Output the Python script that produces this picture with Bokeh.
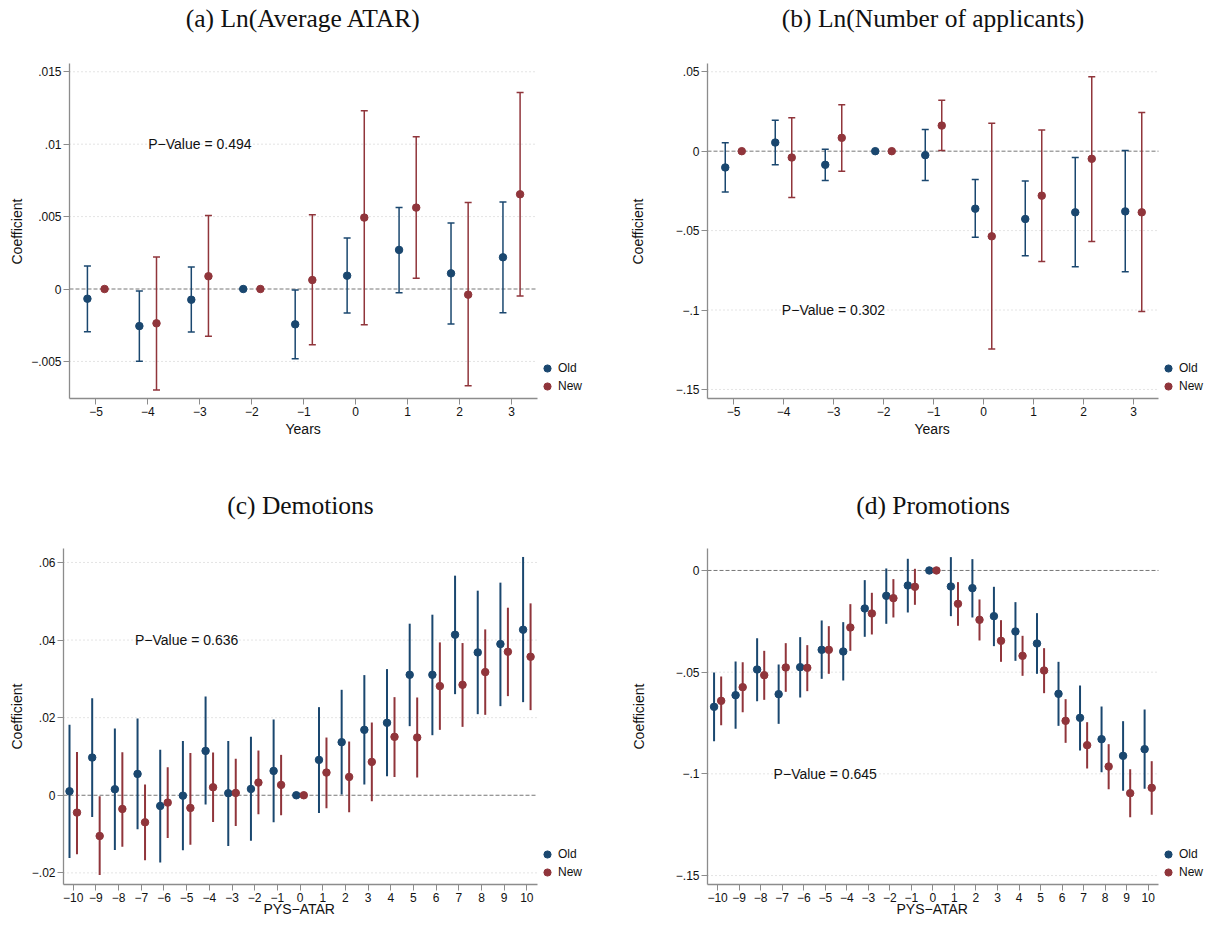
from bokeh.plotting import figure
from bokeh.models import Range1d, FixedTicker, Legend, LegendItem, Label, Title
from bokeh.layouts import column, row
from bokeh.embed import file_html
from bokeh.resources import INLINE
from bokeh.core.properties import value

NaN = float("nan")
M = "\u2212"

# ---------------- Panel (a) Ln(Average ATAR) ----------------
a_years = [-5, -4, -3, -2, -1, 0, 1, 2, 3]
a_old_coef = [-0.00067, -0.00256, -0.00074, 0.0, -0.00244, 0.00092, 0.00270, 0.00108, 0.00219]
a_old_lo = [-0.00295, -0.00498, -0.00297, NaN, -0.00482, -0.00166, -0.00025, -0.00242, -0.00164]
a_old_hi = [0.00159, -0.00014, 0.00152, NaN, -0.00007, 0.00353, 0.00562, 0.00456, 0.00601]
a_new_coef = [0.0, -0.00237, 0.00088, 0.0, 0.00062, 0.00493, 0.00562, -0.00039, 0.00654]
a_new_lo = [NaN, -0.00698, -0.00327, NaN, -0.00385, -0.00247, 0.00074, -0.00668, -0.00048]
a_new_hi = [NaN, 0.00221, 0.00507, NaN, 0.00512, 0.01230, 0.01051, 0.00597, 0.01357]
a_yticks = [-0.005, 0.0, 0.005, 0.01, 0.015]
a_ylabels = [M + ".005", "0", ".005", ".01", ".015"]
a_pval = "P" + M + "Value = 0.494"

# ---------------- Panel (b) Ln(Number of applicants) ----------------
b_years = [-5, -4, -3, -2, -1, 0, 1, 2, 3]
b_old_coef = [-0.01025, 0.00544, -0.00858, 0.0, -0.0025, -0.0362, -0.0427, -0.0385, -0.0379]
b_old_lo = [-0.0257, -0.00858, -0.0184, NaN, -0.0184, -0.0542, -0.0659, -0.0728, -0.0759]
b_old_hi = [0.00523, 0.01946, 0.00126, NaN, 0.0136, -0.0178, -0.0188, -0.0040, 0.0004]
b_new_coef = [0.0, -0.0040, 0.0084, 0.0, 0.0161, -0.0536, -0.0280, -0.0048, -0.0385]
b_new_lo = [NaN, -0.0291, -0.0126, NaN, 0.0004, -0.1245, -0.0695, -0.0569, -0.1009]
b_new_hi = [NaN, 0.0211, 0.0293, NaN, 0.0320, 0.0176, 0.0134, 0.0469, 0.0243]
b_yticks = [-0.15, -0.1, -0.05, 0.0, 0.05]
b_ylabels = [M + ".15", M + ".1", M + ".05", "0", ".05"]
b_pval = "P" + M + "Value = 0.302"

# ---------------- Panel (c) Demotions ----------------
c_pys = list(range(-10, 11))
c_old_coef = [0.00103, 0.00972, 0.00155, 0.00551, -0.00275, -0.0001, 0.01144, 0.00052, 0.00163, 0.00628, 0.0,
              0.00912, 0.01368, 0.01686, 0.01867, 0.03105, 0.03105, 0.04138, 0.03682, 0.03897, 0.04267]
c_old_lo = [-0.01617, -0.00559, -0.0141, -0.00877, -0.0173, -0.0142, -0.00241, -0.0131, -0.0117, -0.00697, NaN,
            -0.00456, 0.00017, 0.00275, 0.0049, 0.01781, 0.01548, 0.02606, 0.0209, 0.02297, 0.024]
c_old_hi = [0.01815, 0.02503, 0.0172, 0.0198, 0.0117, 0.0140, 0.02546, 0.0140, 0.01505, 0.01953, NaN,
            0.02271, 0.02718, 0.03097, 0.03252, 0.04422, 0.04654, 0.0566, 0.05273, 0.0548, 0.06142]
c_new_coef = [-0.00447, -0.0105, -0.00353, -0.00697, -0.00189, -0.00327, 0.00206, 0.0006, 0.00327, 0.00267, 0.0,
              0.00585, 0.00473, 0.0086, 0.01505, 0.01488, 0.02813, 0.02847, 0.03174, 0.03699, 0.0357]
c_new_lo = [-0.01523, -0.02056, -0.01325, -0.01677, -0.01101, -0.01273, -0.00688, -0.00791, -0.0049, -0.00516, NaN,
            -0.00335, -0.00439, -0.00155, 0.00473, 0.00456, 0.01686, 0.01763, 0.02073, 0.02555, 0.02194]
c_new_hi = [0.01118, -0.00026, 0.0111, 0.00275, 0.00723, 0.01092, 0.01101, 0.00938, 0.01153, 0.01041, NaN,
            0.01488, 0.01385, 0.01875, 0.02529, 0.0252, 0.0394, 0.03923, 0.04275, 0.04834, 0.04946]
c_yticks = [-0.02, 0.0, 0.02, 0.04, 0.06]
c_ylabels = [M + ".02", "0", ".02", ".04", ".06"]
c_pval = "P" + M + "Value = 0.636"

# ---------------- Panel (d) Promotions ----------------
d_pys = list(range(-10, 11))
d_old_coef = [-0.06705, -0.06131, -0.04869, -0.06082, -0.04754, -0.03902, -0.03984, -0.01869, -0.01246, -0.00738, 0.0,
              -0.00787, -0.00869, -0.02246, -0.03, -0.0359, -0.06066, -0.07246, -0.08295, -0.09115, -0.08787]
d_old_lo = [-0.08393, -0.07787, -0.06426, -0.07541, -0.06246, -0.05328, -0.0541, -0.03262, -0.02623, -0.02066, NaN,
            -0.02246, -0.02311, -0.03721, -0.04443, -0.05082, -0.0764, -0.08852, -0.09918, -0.10836, -0.10738]
d_old_hi = [-0.05016, -0.04475, -0.03328, -0.04623, -0.03279, -0.02459, -0.02541, -0.00475, 0.00098, 0.00574, NaN,
            0.00656, 0.00557, -0.00803, -0.01557, -0.02098, -0.04492, -0.05656, -0.06689, -0.0741, -0.06836]
d_new_coef = [-0.0641, -0.05738, -0.05148, -0.0477, -0.04787, -0.03902, -0.02803, -0.02115, -0.01361, -0.00803, 0.0,
              -0.01639, -0.02426, -0.03459, -0.04197, -0.04918, -0.07393, -0.0859, -0.09639, -0.10951, -0.10689]
d_new_lo = [-0.07607, -0.06967, -0.06361, -0.05967, -0.05934, -0.05082, -0.03951, -0.03148, -0.02311, -0.01689, NaN,
            -0.02721, -0.03443, -0.04492, -0.0518, -0.06033, -0.08475, -0.09738, -0.10754, -0.12131, -0.12016]
d_new_hi = [-0.05213, -0.04508, -0.03951, -0.03574, -0.03672, -0.02738, -0.01656, -0.01098, -0.00426, 0.00082, NaN,
            -0.00574, -0.01426, -0.02443, -0.03213, -0.0382, -0.06328, -0.07459, -0.08541, -0.0977, -0.09377]
d_yticks = [-0.15, -0.1, -0.05, 0.0]
d_ylabels = [M + ".15", M + ".1", M + ".05", "0"]
d_pval = "P" + M + "Value = 0.645"

OLD_C = "#1A476F"
NEW_C = "#90353B"
SANS = "Liberation Sans"
SERIF = "Liberation Serif"
AX_C = "#8c8c8c"
LAB_PX = 14
# approximate rendered widths (em) of the axis titles in Liberation Sans
EM_W = {"Years": 2.612, "PYS" + M + "ATAR": 5.252, "Coefficient": 4.724}


def xlab(v):
    return (M + str(-v)) if v < 0 else str(v)


def panel(title, xs, old, new, yticks, ylabels, xrange, yrange, xlabel, pval, pval_xy,
          caps, fw, fh, borders, title_top, ylab_gap, xlab_gap, lw):
    bl, br, bt, bb = borders
    x0, x1 = xrange
    y0, y1 = yrange
    # the frame is extended to the right (legend) and to the top (title)
    xe = x1 + br * (x1 - x0) / fw
    ye = y1 + bt * (y1 - y0) / fh
    p = figure(frame_width=fw + br, frame_height=fh + bt, output_backend="svg", toolbar_location=None,
               x_range=Range1d(x0, xe), y_range=Range1d(y0, ye),
               min_border_left=bl, min_border_right=0, min_border_top=0, min_border_bottom=bb,
               background_fill_color="white", border_fill_color="white")
    p.outline_line_color = None
    p.title.text = ""

    # axes
    p.xaxis.ticker = FixedTicker(ticks=xs)
    p.xaxis.major_label_overrides = {x: xlab(x) for x in xs}
    p.yaxis.ticker = FixedTicker(ticks=yticks)
    p.yaxis.major_label_overrides = {t: l for t, l in zip(yticks, ylabels)}
    p.xaxis.bounds = (x0, x1)
    p.yaxis.bounds = (y0, y1)
    for ax in (p.xaxis, p.yaxis):
        ax.axis_line_color = AX_C
        ax.axis_line_width = 1.3
        ax.major_tick_line_color = AX_C
        ax.major_tick_line_width = 1
        ax.major_tick_out = 6
        ax.major_tick_in = 0
        ax.minor_tick_line_color = None
        ax.major_label_text_font = SANS
        ax.major_label_text_font_size = "12px"
        ax.major_label_text_color = "#111111"
        ax.major_label_standoff = 2
    p.yaxis.major_label_orientation = "horizontal"

    # axis titles, centred on the plot region (not on the extended frame)
    xw = EM_W[xlabel] * LAB_PX
    p.add_layout(Title(text=xlabel, align="left", offset=int(round(fw / 2 - xw / 2)),
                       vertical_align="top", standoff=xlab_gap,
                       text_font=SANS, text_font_size="%dpx" % LAB_PX, text_font_style="normal",
                       text_color="#111111"), "below")
    yw = EM_W["Coefficient"] * LAB_PX
    p.add_layout(Title(text="Coefficient", align="left", offset=int(round(fh / 2 - yw / 2)),
                       vertical_align="bottom", standoff=ylab_gap,
                       text_font=SANS, text_font_size="%dpx" % LAB_PX, text_font_style="normal",
                       text_color="#111111"), "left")

    p.xgrid.grid_line_color = None
    p.ygrid.grid_line_color = None

    # dotted horizontal grid lines at the y ticks (limited to the plot region)
    gy = [t for t in yticks if t != 0]
    p.segment(x0=[x0] * len(gy), y0=gy, x1=[x1] * len(gy), y1=gy,
              line_color="#c8c8c8", line_dash="1 3", line_width=1)
    # dashed zero reference line
    p.segment(x0=[x0], y0=[0], x1=[x1], y1=[0], line_color="#777777", line_dash="4 2", line_width=1)

    off = 0.165
    rends = []
    for (coef, lo, hi), col, sgn in ((old, OLD_C, -1), (new, NEW_C, 1)):
        xx = [x + sgn * off for x in xs]
        p.segment(x0=xx, y0=lo, x1=xx, y1=hi, line_color=col, line_width=lw)
        if caps:
            p.scatter(x=xx, y=lo, marker="dash", size=7, line_color=col, line_width=1.5)
            p.scatter(x=xx, y=hi, marker="dash", size=7, line_color=col, line_width=1.5)
        r = p.scatter(x=xx, y=coef, marker="circle", size=7.5, fill_color=col, line_color=col)
        rends.append(r)

    p.text(x=[pval_xy[0]], y=[pval_xy[1]], text=[pval], text_align="center", text_baseline="middle",
           text_font=value(SANS), text_font_size="14px", text_color="#111111")

    p.add_layout(Label(x=fw / 2, y=fh + bt - title_top, x_units="screen", y_units="screen",
                       text=title, text_align="center", text_baseline="middle",
                       text_font=SERIF, text_font_size="25.5px", text_color="#111111"))

    leg = Legend(items=[LegendItem(label="Old", renderers=[rends[0]]),
                        LegendItem(label="New", renderers=[rends[1]])],
                 location=(fw, 3), orientation="vertical")
    leg.border_line_color = None
    leg.background_fill_alpha = 0
    leg.margin = 0
    leg.padding = 4
    leg.spacing = 0
    leg.glyph_width = 20
    leg.glyph_height = 18
    leg.label_height = 18
    leg.label_standoff = 1
    leg.label_text_font = SANS
    leg.label_text_font_size = "12px"
    leg.label_text_color = "#111111"
    p.add_layout(leg)
    return p


pa = panel("(a) Ln(Average ATAR)", a_years,
           (a_old_coef, a_old_lo, a_old_hi), (a_new_coef, a_new_lo, a_new_hi),
           a_yticks, a_ylabels, (-5.51, 3.5), (-0.00756, 0.01557), "Years", a_pval, (-3, 0.01),
           True, 468, 335, (69, 62, 63, 65), 18, 8, 4, 1.5)
pb = panel("(b) Ln(Number of applicants)", b_years,
           (b_old_coef, b_old_lo, b_old_hi), (b_new_coef, b_new_lo, b_new_hi),
           b_yticks, b_ylabels, (-5.52, 3.5), (-0.1557, 0.0552), "Years", b_pval, (-3, -0.1),
           True, 451, 335, (108, 57, 63, 65), 18, 53, 4, 1.5)
pc = panel("(c) Demotions", c_pys,
           (c_old_coef, c_old_lo, c_old_hi), (c_new_coef, c_new_lo, c_new_hi),
           c_yticks, c_ylabels, (-10.43, 10.47), (-0.023, 0.0636), "PYS" + M + "ATAR", c_pval, (-5, 0.04),
           False, 474, 336, (63, 60, 85, 42), 42, 8, -8, 2)
pd_ = panel("(d) Promotions", d_pys,
            (d_old_coef, d_old_lo, d_old_hi), (d_new_coef, d_new_lo, d_new_hi),
            d_yticks, d_ylabels, (-10.47, 10.48), (-0.1544, 0.0108), "PYS" + M + "ATAR", d_pval, (-5, -0.1),
            False, 451, 336, (110, 57, 85, 42), 42, 52, -8, 2)

layout = column(row(pa, pb), row(pc, pd_))
open("out.html", "w").write(file_html(layout, INLINE))
